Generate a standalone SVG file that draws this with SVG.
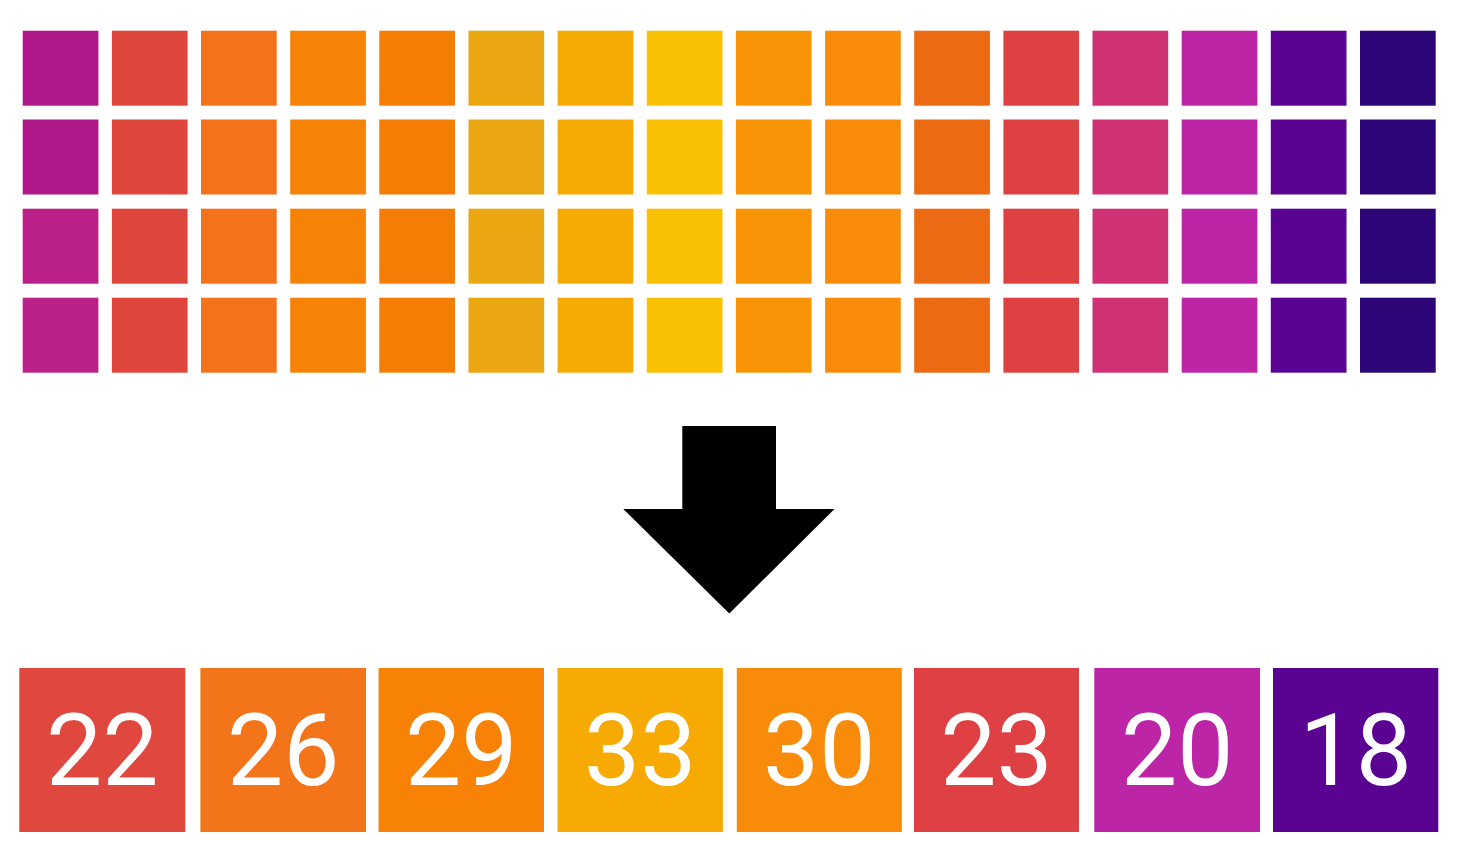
<svg xmlns="http://www.w3.org/2000/svg" width="1460" height="865" viewBox="0 0 1460 865">
<style>
.c{stroke:none}
.b{stroke:none}
.t{font-family:Roboto,"Liberation Sans",sans-serif;font-size:100px;fill:#ffffff;text-anchor:middle}
</style>
<rect width="1460" height="865" fill="#ffffff"/>
<g id="grid">
<g id="col1"><rect class="c" x="22.7" y="30.7" width="75.7" height="75" fill="#AF1889"/><rect class="c" x="22.7" y="119.5" width="75.7" height="75" fill="#AF1889"/><rect class="c" x="22.7" y="208.7" width="75.7" height="75" fill="#BB1F88"/><rect class="c" x="22.7" y="297.7" width="75.7" height="75" fill="#BB2288"/></g>
<g id="col2" fill="#DE463D"><rect x="111.9" y="30.7" width="75.7" height="75"/><rect x="111.9" y="119.5" width="75.7" height="75"/><rect x="111.9" y="208.7" width="75.7" height="75"/><rect x="111.9" y="297.7" width="75.7" height="75"/></g>
<g id="col3" fill="#F3721A"><rect x="201.0" y="30.7" width="75.7" height="75"/><rect x="201.0" y="119.5" width="75.7" height="75"/><rect x="201.0" y="208.7" width="75.7" height="75"/><rect x="201.0" y="297.7" width="75.7" height="75"/></g>
<g id="col4" fill="#F78208"><rect x="290.2" y="30.7" width="75.7" height="75"/><rect x="290.2" y="119.5" width="75.7" height="75"/><rect x="290.2" y="208.7" width="75.7" height="75"/><rect x="290.2" y="297.7" width="75.7" height="75"/></g>
<g id="col5" fill="#F57D06"><rect x="379.3" y="30.7" width="75.7" height="75"/><rect x="379.3" y="119.5" width="75.7" height="75"/><rect x="379.3" y="208.7" width="75.7" height="75"/><rect x="379.3" y="297.7" width="75.7" height="75"/></g>
<g id="col6" fill="#EBA711"><rect x="468.5" y="30.7" width="75.7" height="75"/><rect x="468.5" y="119.5" width="75.7" height="75"/><rect x="468.5" y="208.7" width="75.7" height="75"/><rect x="468.5" y="297.7" width="75.7" height="75"/></g>
<g id="col7" fill="#F6AA04"><rect x="557.6" y="30.7" width="75.7" height="75"/><rect x="557.6" y="119.5" width="75.7" height="75"/><rect x="557.6" y="208.7" width="75.7" height="75"/><rect x="557.6" y="297.7" width="75.7" height="75"/></g>
<g id="col8" fill="#F8C104"><rect x="646.8" y="30.7" width="75.7" height="75"/><rect x="646.8" y="119.5" width="75.7" height="75"/><rect x="646.8" y="208.7" width="75.7" height="75"/><rect x="646.8" y="297.7" width="75.7" height="75"/></g>
<g id="col9" fill="#F69405"><rect x="735.9" y="30.7" width="75.7" height="75"/><rect x="735.9" y="119.5" width="75.7" height="75"/><rect x="735.9" y="208.7" width="75.7" height="75"/><rect x="735.9" y="297.7" width="75.7" height="75"/></g>
<g id="col10" fill="#F98B0A"><rect x="825.1" y="30.7" width="75.7" height="75"/><rect x="825.1" y="119.5" width="75.7" height="75"/><rect x="825.1" y="208.7" width="75.7" height="75"/><rect x="825.1" y="297.7" width="75.7" height="75"/></g>
<g id="col11" fill="#EC6A14"><rect x="914.2" y="30.7" width="75.7" height="75"/><rect x="914.2" y="119.5" width="75.7" height="75"/><rect x="914.2" y="208.7" width="75.7" height="75"/><rect x="914.2" y="297.7" width="75.7" height="75"/></g>
<g id="col12" fill="#DE4142"><rect x="1003.4" y="30.7" width="75.7" height="75"/><rect x="1003.4" y="119.5" width="75.7" height="75"/><rect x="1003.4" y="208.7" width="75.7" height="75"/><rect x="1003.4" y="297.7" width="75.7" height="75"/></g>
<g id="col13" fill="#D03174"><rect x="1092.5" y="30.7" width="75.7" height="75"/><rect x="1092.5" y="119.5" width="75.7" height="75"/><rect x="1092.5" y="208.7" width="75.7" height="75"/><rect x="1092.5" y="297.7" width="75.7" height="75"/></g>
<g id="col14" fill="#BB25A6"><rect x="1181.7" y="30.7" width="75.7" height="75"/><rect x="1181.7" y="119.5" width="75.7" height="75"/><rect x="1181.7" y="208.7" width="75.7" height="75"/><rect x="1181.7" y="297.7" width="75.7" height="75"/></g>
<g id="col15" fill="#5A0291"><rect x="1270.8" y="30.7" width="75.7" height="75"/><rect x="1270.8" y="119.5" width="75.7" height="75"/><rect x="1270.8" y="208.7" width="75.7" height="75"/><rect x="1270.8" y="297.7" width="75.7" height="75"/></g>
<g id="col16" fill="#2D0678"><rect x="1360" y="30.7" width="75.7" height="75"/><rect x="1360" y="119.5" width="75.7" height="75"/><rect x="1360" y="208.7" width="75.7" height="75"/><rect x="1360" y="297.7" width="75.7" height="75"/></g>
</g>
<g id="arrow">
<polygon points="682.3,426 776,426 776,509 834.5,509 729.3,613.5 623.3,509 682.3,509" fill="#000000"/>
</g>
<g id="result">
<g id="r1"><rect x="19.3" y="668" width="166" height="164" fill="#DF473F"/><text class="t" x="102.3" y="785">22</text></g>
<g id="r2"><rect x="200.4" y="668" width="165.6" height="164" fill="#F4741A"/><text class="t" x="283.2" y="785">26</text></g>
<g id="r3"><rect x="378.6" y="668" width="165.4" height="164" fill="#F78205"/><text class="t" x="461.3" y="785">29</text></g>
<g id="r4"><rect x="557.5" y="668" width="165.4" height="164" fill="#F7AA03"/><text class="t" x="640.2" y="785">33</text></g>
<g id="r5"><rect x="736.8" y="668" width="165" height="164" fill="#F98B0A"/><text class="t" x="819.3" y="785">30</text></g>
<g id="r6"><rect x="914" y="668" width="165" height="164" fill="#DF4043"/><text class="t" x="996.5" y="785">23</text></g>
<g id="r7"><rect x="1094.3" y="668" width="165.7" height="164" fill="#BB25A6"/><text class="t" x="1177.2" y="785">20</text></g>
<g id="r8"><rect x="1273" y="668" width="165.3" height="164" fill="#5A0291"/><text class="t" x="1355.7" y="785">18</text></g>
</g>
</svg>
